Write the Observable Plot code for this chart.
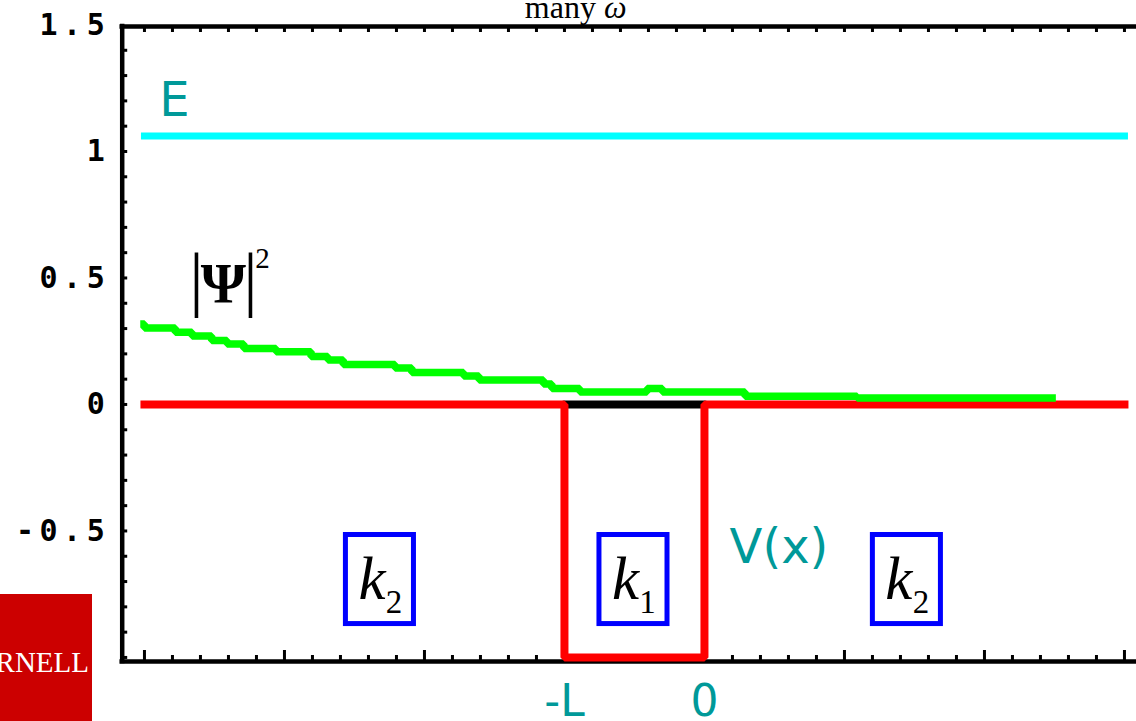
<!DOCTYPE html>
<html><head><meta charset="utf-8">
<script src="https://cdn.jsdelivr.net/npm/d3@7"></script>
<script src="https://cdn.jsdelivr.net/npm/@observablehq/plot@0.6"></script>
<style>
html,body{margin:0;padding:0;background:#fff;overflow:hidden}
#wrap{position:relative;width:1136px;height:721px}
#logo{position:absolute;left:0;top:594px;width:92px;height:127px;background:#cc0000;overflow:hidden}
#logo span{position:absolute;right:3px;top:52px;font-family:"Liberation Serif",serif;font-size:29px;color:#fff;white-space:nowrap;line-height:normal}
g[aria-label="y-axis tick label"]{letter-spacing:5.5px}
</style></head><body>
<div id="wrap"><div id="chart"></div><div id="logo"><span>CORNELL</span></div></div>
<script>
// ---- data ----
const energyX = [-4, 3];
const energyY = [1.061, 1.061];

const potentialX = [-4, -1, -1, 0, 0, 3];
const potentialY = [0, 0, -1, -1, 0, 0];

const wellTopX = [-1, 0];
const wellTopY = [0, 0];

const psiX = [-4.03, -4.0, -3.78, -3.66, -3.52, -3.41, -3.29, -3.06, -2.81, -2.69, -2.58, -2.21, -2.09, -1.72, -1.61, -1.15, -1.09, -0.89, -0.41, -0.30, 0.29, 1.09, 2.51];
const psiY = [0.318, 0.302, 0.285, 0.271, 0.253, 0.239, 0.221, 0.208, 0.190, 0.176, 0.158, 0.144, 0.126, 0.113, 0.097, 0.081, 0.063, 0.049, 0.063, 0.049, 0.032, 0.026, 0.026];

const regionX = [-2.318, -0.507, 1.446];
const regionY = [-0.692, -0.692, -0.692];
const regionSub = ["2", "1", "2"];

const yTickValues = [-0.5, 0, 0.5, 1, 1.5];
const yTickLabels = ["-0.5", "0", "0.5", "1", "1.5"];
const xTickValues = [-1, 0];
const xTickLabels = ["-L", "0"];

const titleMain = "many";
const titleSym = "ω";
const energyLabel = "E";
const potentialLabel = "V(x)";
const psiLabel = "Ψ";
const psiPower = "2";

// ---- scales ----
const xDomain = [-4.159, 3.086];
const yDomain = [-1.016, 1.494];
const W = 1136, H = 721, mL = 121.7, mR = 0, mT = 26, mB = 60;
const plotW = W - mL - mR, plotH = H - mT - mB;

const xMajor = d3.range(-4, 3.5, 1);
const xAll = d3.range(-40, 31, 2).map(d => d / 10);
const xMinor = xAll.filter(d => Math.abs(d - Math.round(d)) > 1e-6);
const yAll = d3.range(-10, 15, 1).map(d => d / 10);

const energy = energyX.map((x, i) => ({x, y: energyY[i]}));
const potential = potentialX.map((x, i) => ({x, y: potentialY[i]}));
const wellTop = wellTopX.map((x, i) => ({x, y: wellTopY[i]}));
const psi = psiX.map((x, i) => ({x, y: psiY[i]}));
const regions = regionX.map((x, i) => ({x, y: regionY[i], sub: regionSub[i]}));

const teal = "#009999";
const serif = "Liberation Serif, Times New Roman, serif";
const sans = "DejaVu Sans, Verdana, sans-serif";
const psiAnchor = {x: -3.436, y: 0.4};

const chart = Plot.plot({
  width: W, height: H,
  marginLeft: mL, marginRight: mR, marginTop: mT, marginBottom: mB,
  x: {domain: xDomain},
  y: {domain: yDomain},
  style: {background: "transparent", overflow: "visible"},
  marks: [
    // ticks (inward)
    Plot.tickX(xMajor, {x: d => d, stroke: "black", strokeWidth: 3, insetTop: plotH - 11}),
    Plot.tickX(xMinor, {x: d => d, stroke: "black", strokeWidth: 3, insetTop: plotH - 6}),
    Plot.tickX(xAll, {x: d => d, stroke: "black", strokeWidth: 3, insetBottom: plotH - 6}),
    Plot.tickY(yAll, {y: d => d, stroke: "black", strokeWidth: 3, insetRight: plotW - 5.5}),
    // frame
    Plot.ruleY([yDomain[0], yDomain[1]], {y: d => d, stroke: "black", strokeWidth: 4.5, strokeLinecap: "square"}),
    Plot.ruleX([xDomain[0]], {x: d => d, stroke: "black", strokeWidth: 4.5, strokeLinecap: "square"}),
    // axes labels
    Plot.axisY({ticks: yTickValues, tickFormat: d => yTickLabels[yTickValues.indexOf(d)], tickSize: 0, tickPadding: 12,
      fontFamily: "DejaVu Sans Mono, monospace", fontSize: 30, fontWeight: "bold", fill: "black", label: null}),
    Plot.axisX({ticks: xTickValues, tickFormat: d => xTickLabels[xTickValues.indexOf(d)], tickSize: 0, tickPadding: 23,
      fontFamily: sans, fontSize: 44, fill: teal, label: null}),
    // curves
    Plot.line(energy, {x: "x", y: "y", stroke: "#00ffff", strokeWidth: 7, strokeLinecap: "square"}),
    Plot.line(wellTop, {x: "x", y: "y", stroke: "black", strokeWidth: 8}),
    Plot.line(potential, {x: "x", y: "y", stroke: "#ff0000", strokeWidth: 8, strokeLinecap: "square", strokeLinejoin: "miter"}),
    Plot.line(psi, {x: "x", y: "y", curve: "step-after", stroke: "#00ff00", strokeWidth: 7.5, strokeLinecap: "butt", strokeLinejoin: "miter"}),
    // region boxes
    Plot.rect(regions, {x1: d => d.x - 0.243, x2: d => d.x + 0.243, y1: d => d.y - 0.176, y2: d => d.y + 0.176,
      fill: "white", stroke: "#0000ff", strokeWidth: 5}),
    Plot.text(regions, {x: "x", y: "y", text: () => "k", dx: -8, dy: 19, lineAnchor: "bottom",
      fontFamily: serif, fontStyle: "italic", fontSize: 61, fill: "black"}),
    Plot.text(regions, {x: "x", y: "y", text: "sub", dx: 14, dy: 33, lineAnchor: "bottom",
      fontFamily: serif, fontSize: 33, fill: "black"}),
    // labels
    Plot.text([energyLabel], {x: -3.786, y: 1.142, text: d => d, lineAnchor: "bottom", fontFamily: sans, fontSize: 48, fill: teal}),
    Plot.text([potentialLabel], {x: 0.532, y: -0.628, text: d => d, lineAnchor: "bottom", fontFamily: sans, fontSize: 48, fill: teal}),
    Plot.text([psiLabel], {x: psiAnchor.x, y: psiAnchor.y, text: d => d, lineAnchor: "bottom", fontFamily: serif, fontWeight: "bold", fontSize: 58, fill: "black"}),
    Plot.text(["|"], {x: psiAnchor.x, y: psiAnchor.y, text: d => d, dx: -27, lineAnchor: "bottom", fontFamily: serif, fontSize: 72, fill: "black"}),
    Plot.text(["|"], {x: psiAnchor.x, y: psiAnchor.y, text: d => d, dx: 27, lineAnchor: "bottom", fontFamily: serif, fontSize: 72, fill: "black"}),
    Plot.text([psiPower], {x: psiAnchor.x, y: psiAnchor.y, text: d => d, dx: 39, dy: -35, lineAnchor: "bottom", fontFamily: serif, fontSize: 29, fill: "black"}),
    // title
    Plot.text([titleMain], {frameAnchor: "top", text: d => d, dx: -69, dy: -9, lineAnchor: "bottom", fontFamily: serif, fontSize: 32, fill: "black"}),
    Plot.text([titleSym], {frameAnchor: "top", text: d => d, dx: -14, dy: -9, lineAnchor: "bottom", fontFamily: serif, fontStyle: "italic", fontSize: 32, fill: "black"})
  ]
});
document.getElementById("chart").appendChild(chart);
</script>
</body></html>
